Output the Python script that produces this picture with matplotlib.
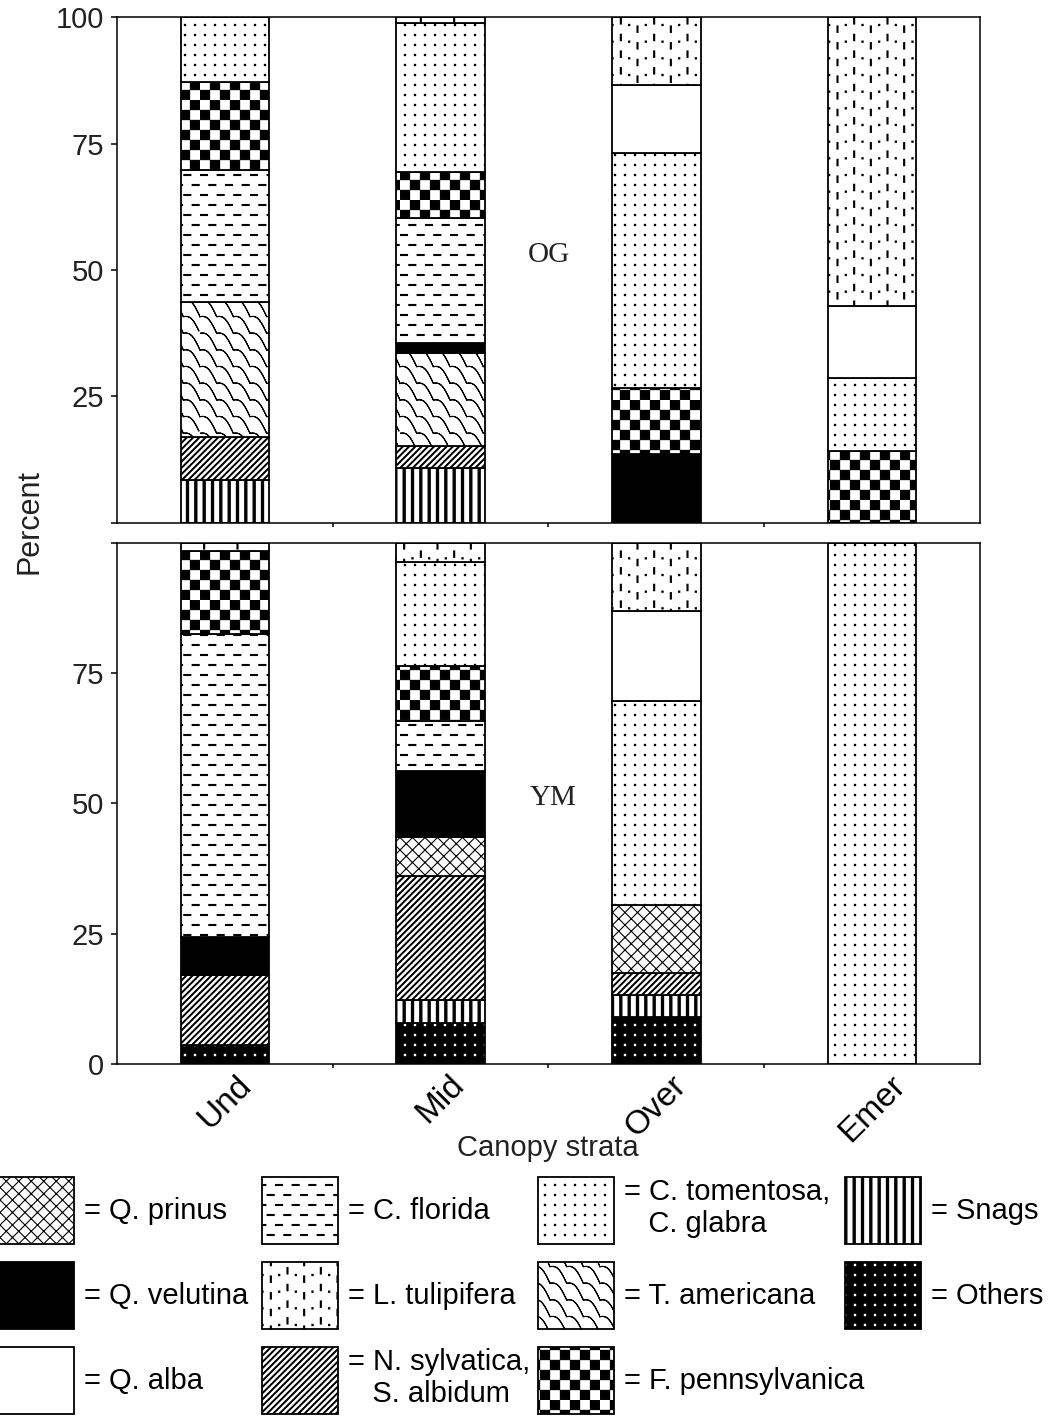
import numpy as np
import matplotlib
matplotlib.use('Agg')
import matplotlib.pyplot as plt
import matplotlib.hatch as mhatch
from matplotlib.path import Path
from matplotlib.patches import Patch

plt.rcParams['font.family'] = ['Liberation Sans', 'DejaVu Sans']
plt.rcParams['hatch.linewidth'] = 0.8

strata = ['Und', 'Mid', 'Over', 'Emer']

# percent of stems, stacked bottom to top - old growth (OG)
og_others = [0, 0, 0, 0]
og_snags = [8.5, 10.9, 0, 0]
og_nyssa = [8.5, 4.3, 0, 0]
og_prinus = [0, 0, 0, 0]
og_tilia = [26.6, 18.3, 0, 0]
og_velutina = [0, 2.1, 13.7, 0]
og_cornus = [26.1, 24.6, 0, 0]
og_fraxinus = [17.4, 9.1, 13.0, 14.3]
og_carya = [12.9, 29.5, 46.4, 14.4]
og_alba = [0, 0, 13.4, 14.1]
og_lirio = [0, 1.2, 13.5, 57.2]

# young/mature stand (YM)
ym_others = [3.6, 7.9, 9.1, 0]
ym_snags = [0, 4.3, 4.2, 0]
ym_nyssa = [13.5, 23.8, 4.2, 0]
ym_prinus = [0, 7.6, 13.0, 0]
ym_tilia = [0, 0, 0, 0]
ym_velutina = [7.3, 12.6, 0, 0]
ym_cornus = [58.2, 9.6, 0, 0]
ym_fraxinus = [15.9, 10.6, 0, 0]
ym_carya = [0, 19.9, 39.1, 100]
ym_alba = [0, 0, 17.4, 0]
ym_lirio = [1.5, 3.7, 13.0, 0]

species = ['Others', 'Snags', 'N. sylvatica', 'Q. prinus', 'T. americana', 'Q. velutina',
           'C. florida', 'F. pennsylvanica', 'C. tomentosa', 'Q. alba', 'L. tulipifera']
faces = ['white'] * 5 + ['black'] + ['white'] * 5
hatches = ['K', 'S', 'N', 'Q', 'W', None, 'D', 'C', 'T', None, 'L']

# legend columns (indices into species) and their labels
legend_cols = [[3, 5, 9], [6, 10, 2], [8, 4, 7], [1, 0]]
legend_labels = [['= Q. prinus', '= Q. velutina', '= Q. alba'],
                 ['= C. florida', '= L. tulipifera', '= N. sylvatica,\n   S. albidum'],
                 ['= C. tomentosa,\n   C. glabra', '= T. americana', '= F. pennsylvanica'],
                 ['= Snags', '= Others']]
legend_x = [-2, 262, 538, 845]

og = [og_others, og_snags, og_nyssa, og_prinus, og_tilia, og_velutina,
      og_cornus, og_fraxinus, og_carya, og_alba, og_lirio]
ym = [ym_others, ym_snags, ym_nyssa, ym_prinus, ym_tilia, ym_velutina,
      ym_cornus, ym_fraxinus, ym_carya, ym_alba, ym_lirio]


# ---- bitmap-like fill patterns as custom hatches (unit tile = 1 inch) ----
MOVE, LINE, CLOSE = Path.MOVETO, Path.LINETO, Path.CLOSEPOLY


def box(x0, y0, x1, y1, flip=False):
    pts = [(x0, y0), (x1, y0), (x1, y1), (x0, y1), (x0, y0)]
    if flip:
        pts = pts[::-1]
    return pts, [MOVE, LINE, LINE, LINE, CLOSE]


def pattern_parts(ch):
    parts = []
    if ch == 'C':  # checkerboard
        n, c, s = 10, 1 / 10, 0.004
        for i in range(n):
            for j in range(n):
                if (i + j) % 2 == 0:
                    parts.append(box(i * c + s, j * c + s, (i + 1) * c - s, (j + 1) * c - s))
    elif ch == 'T':  # fine dots
        for i in range(10):
            for j in range(10):
                cx, cy = (i + 0.5) / 10, (j + 0.5) / 10
                parts.append(box(cx - 0.006, cy - 0.006, cx + 0.006, cy + 0.006))
    elif ch == 'L':  # vertical dashes + dots
        for k in range(6):
            xd = (k + 0.25) / 6
            xo = (k + 0.75) / 6
            off = 0.25 if k % 2 == 0 else 0.75
            for m in range(6):
                yc = (m + off) / 6
                parts.append(box(xd - 0.005, yc - 0.032, xd + 0.005, yc + 0.032))
                yd = (m + 0.5) / 6
                parts.append(box(xo - 0.006, yd - 0.006, xo + 0.006, yd + 0.006))
    elif ch == 'D':  # horizontal dashes, staggered
        for r in range(10):
            y = (r + 0.5) / 10
            shift = (r % 2) / 12
            for k in range(6):
                x0 = k / 6 + 0.005 + shift
                parts.append(box(x0, y - 0.005, x0 + 0.07, y + 0.005))
    elif ch == 'W':  # scale-like waves along the "\" direction
        xs = np.linspace(0, 1, 181)
        for k in range(-1, 14):
            ys = -xs + k / 6 + 0.06 * np.abs(np.sin(np.pi * 6 * xs))
            pts = np.column_stack([xs, ys])
            pts = np.concatenate([pts, pts[::-1]])
            parts.append((pts, [MOVE] + [LINE] * (len(pts) - 1)))
    elif ch == 'N':  # dense "/" stripes
        w = 0.012
        for k in range(-17, 17):
            c = k / 16
            parts.append(([(0, c), (1, 1 + c), (1, 1 + c + w), (0, c + w), (0, c)],
                          [MOVE, LINE, LINE, LINE, CLOSE]))
    elif ch == 'S':  # thick vertical stripes
        for k in range(12):
            x0 = (k + 0.5) / 12 - 0.011
            parts.append(box(x0, -0.01, x0 + 0.022, 1.01))
    elif ch == 'Q':  # diagonal crosshatch
        for k in range(-8, 17):
            c = k / 8
            parts.append(([(0, c), (1, 1 + c)], [MOVE, LINE]))
            parts.append(([(0, c), (1, c - 1)], [MOVE, LINE]))
    elif ch == 'K':  # black with white dots
        parts.append(box(-0.02, -0.02, 1.02, 1.02))
        for i in range(10):
            for j in range(10):
                cx, cy = (i + 0.5) / 10, (j + 0.5) / 10
                parts.append(box(cx - 0.018, cy - 0.018, cx + 0.018, cy + 0.018, flip=True))
    return parts


class TileHatch(mhatch.HatchPatternBase):
    def __init__(self, hatch, density):
        parts = []
        for ch in sorted(set(hatch)):
            parts += pattern_parts(ch)
        if parts:
            self.verts = np.concatenate([np.asarray(p, float).reshape(-1, 2) for p, c in parts])
            self.codes = np.concatenate([np.asarray(c, Path.code_type) for p, c in parts])
        else:
            self.verts = np.empty((0, 2))
            self.codes = np.empty(0, Path.code_type)
        self.num_vertices = len(self.verts)

    def set_vertices_and_codes(self, vertices, codes):
        vertices[:] = self.verts
        codes[:] = self.codes


mhatch._hatch_types.append(TileHatch)
mhatch._validate_hatch_pattern = lambda hatch: None


fig = plt.figure(figsize=(10.49, 14.18), dpi=100)
ax_og = fig.add_axes([0.1115, 0.6312, 0.8227, 0.3568])
ax_ym = fig.add_axes([0.1115, 0.2497, 0.8227, 0.3674])

x = np.arange(len(strata))
for ax, table in ((ax_og, og), (ax_ym, ym)):
    bottom = np.zeros(len(strata))
    for vals, face, hatch in zip(table, faces, hatches):
        vals = np.asarray(vals, float)
        keep = vals > 0
        if keep.any():
            ax.bar(x[keep], vals[keep], 0.41, bottom=bottom[keep], color=face,
                   edgecolor='black', hatch=hatch, linewidth=1.3)
        bottom += vals

    ax.set_xlim(-0.5, 3.5)
    ax.set_ylim(0, 100)
    ax.set_yticks([0, 25, 50, 75, 100])
    ax.set_xticks(x)
    ax.set_xticks([0.5, 1.5, 2.5], minor=True)
    ax.tick_params(axis='y', length=4, width=1.1, labelsize=21, pad=5, labelcolor='#222222')
    ax.tick_params(axis='x', which='major', length=0)
    ax.tick_params(axis='x', which='minor', length=3, width=1.1)
    for s in ax.spines.values():
        s.set_linewidth(1.1)

ax_og.set_yticklabels(['', '25', '50', '75', '100'])
ax_og.set_xticklabels([])
ax_ym.set_yticklabels(['0', '25', '50', '75', ''])
ax_ym.set_xticklabels(strata, rotation=45, ha='center', fontsize=24)
ax_ym.tick_params(axis='x', which='major', pad=4)

ax_og.text(1.5, 53, 'OG', family='Liberation Serif', fontsize=21, ha='center', va='center', color='#222222')
ax_ym.text(1.52, 51, 'YM', family='Liberation Serif', fontsize=21, ha='center', va='center', color='#222222')

fig.text(29 / 1049, 1 - 522 / 1418, 'Percent', rotation=90, fontsize=22, ha='center', va='center', color='#222222')
fig.text(548 / 1049, 1 - 1148 / 1418, 'Canopy strata', fontsize=21, ha='center', va='center', color='#222222')

# legend: one column per fig.legend so that columns sit on a fixed grid
for idx, labels, x0 in zip(legend_cols, legend_labels, legend_x):
    handles = [Patch(facecolor=faces[i], edgecolor='black', hatch=hatches[i], linewidth=1.3)
               for i in idx]
    fig.legend(handles, labels, loc='upper left', bbox_to_anchor=(x0 / 1049, 1 - 1177 / 1418),
               ncol=1, frameon=False, fontsize=21, handlelength=2.6, handleheight=3.16,
               handletextpad=0.35, labelspacing=0.62, borderpad=0, borderaxespad=0)

fig.savefig('out.png', dpi=100)
